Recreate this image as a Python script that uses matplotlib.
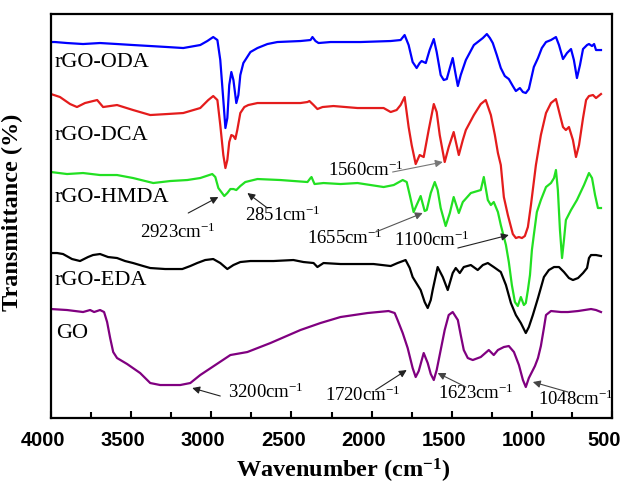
import matplotlib
matplotlib.use("Agg")
import matplotlib.pyplot as plt
import matplotlib.transforms as mtransforms
from matplotlib.ticker import MultipleLocator

plt.rcParams['mathtext.fontset'] = 'custom'
plt.rcParams['mathtext.rm'] = 'Liberation Serif'
plt.rcParams['mathtext.bf'] = 'Liberation Serif:bold'
plt.rcParams['mathtext.it'] = 'Liberation Serif:italic'

# ---------------- data (wavenumber cm^-1, transmittance a.u.) ----------------
oda_w = [4000, 3975, 3900, 3800, 3694, 3588, 3488, 3381, 3275, 3175, 3069, 3025, 2988, 2962, 2944, 2925,
         2912, 2900, 2888, 2875, 2862, 2844, 2831, 2819, 2800, 2756, 2712, 2650, 2588, 2444, 2381, 2369,
         2350, 2331, 2256, 2069, 1881, 1819, 1794, 1769, 1744, 1719, 1700, 1688, 1662, 1638, 1612, 1594,
         1569, 1550, 1531, 1512, 1494, 1475, 1462, 1444, 1412, 1362, 1306, 1281, 1262, 1244, 1219, 1194,
         1169, 1144, 1119, 1100, 1075, 1056, 1038, 1019, 988, 962, 938, 912, 881, 850, 831, 806, 781, 756,
         738, 719, 700, 681, 656, 644, 625, 612, 600, 569]
oda_t = [376, 376, 375, 374, 375, 374, 373, 372, 371, 370, 373, 377, 381, 378, 358, 318,
         290, 300, 333, 346, 338, 315, 323, 343, 355, 366, 370, 374, 376, 377, 378, 381,
         377, 375, 376, 376, 377, 378, 383, 373, 356, 350, 355, 357, 355, 368, 379, 366,
         343, 338, 339, 350, 360, 343, 332, 343, 358, 373, 380, 384, 380, 375, 363, 350,
         342, 339, 332, 327, 330, 326, 325, 329, 351, 360, 370, 376, 378, 381, 373, 359, 365, 369,
         358, 340, 353, 369, 373, 374, 372, 374, 368, 368]

dca_w = [4000, 3944, 3881, 3838, 3788, 3712, 3675, 3588, 3488, 3381, 3275, 3175, 3069, 3019, 2988, 2962,
         2944, 2925, 2912, 2900, 2888, 2875, 2862, 2850, 2838, 2819, 2794, 2769, 2712, 2569, 2444, 2400,
         2388, 2362, 2338, 2306, 2238, 2088, 1925, 1881, 1844, 1819, 1794, 1769, 1750, 1725, 1700, 1675,
         1644, 1612, 1594, 1575, 1544, 1519, 1488, 1456, 1431, 1412, 1362, 1319, 1288, 1256, 1231, 1212,
         1194, 1175, 1150, 1119, 1100, 1081, 1062, 1044, 1025, 1006, 975, 944, 912, 881, 850, 825, 806,
         788, 769, 744, 725, 706, 681, 662, 644, 619, 600, 569]
dca_t = [324, 321, 314, 311, 315, 318, 311, 313, 308, 303, 304, 305, 310, 318, 322, 318,
         293, 263, 250, 258, 276, 283, 282, 279, 288, 305, 311, 313, 315, 315, 315, 316,
         317, 313, 309, 311, 312, 310, 310, 306, 308, 313, 321, 291, 273, 254, 263, 261,
         288, 314, 306, 283, 256, 271, 286, 263, 278, 288, 303, 314, 318, 303, 283, 265,
         253, 221, 203, 184, 180, 181, 180, 182, 191, 213, 253, 283, 305, 315, 319, 303, 291,
         288, 291, 278, 261, 273, 300, 318, 322, 323, 320, 324]

hmda_w = [4000, 3900, 3800, 3694, 3588, 3488, 3362, 3256, 3150, 3069, 2994, 2975, 2956, 2919, 2900, 2881,
          2862, 2844, 2819, 2788, 2712, 2569, 2400, 2381, 2375, 2356, 2300, 2194, 2088, 1925, 1862, 1806,
          1781, 1762, 1738, 1719, 1694, 1669, 1656, 1631, 1606, 1588, 1569, 1538, 1512, 1488, 1456, 1431,
          1381, 1319, 1300, 1275, 1256, 1238, 1212, 1194, 1162, 1144, 1125, 1106, 1088, 1069, 1050, 1038,
          1025, 1012, 1000, 988, 969, 944, 912, 881, 862, 850, 838, 825, 812, 800, 788, 756, 719, 675,
          644, 625, 606, 588, 569]
hmda_t = [246, 244, 245, 243, 243, 240, 235, 237, 238, 240, 244, 241, 230, 222, 225, 229,
          229, 228, 232, 236, 239, 238, 236, 240, 241, 234, 235, 234, 235, 231, 233, 238,
          236, 223, 206, 213, 222, 207, 208, 225, 236, 228, 210, 192, 205, 221, 205, 216,
          225, 228, 241, 218, 213, 216, 206, 193, 173, 156, 133, 116, 112, 121, 113, 115,
          128, 143, 168, 183, 206, 218, 231, 235, 240, 248, 228, 188, 160, 178, 198, 208, 218, 233,
          245, 240, 223, 210, 210]

eda_w = [4000, 3962, 3925, 3869, 3819, 3769, 3738, 3694, 3644, 3588, 3538, 3488, 3425, 3381, 3288, 3181,
         3131, 3088, 3038, 2988, 2944, 2900, 2862, 2819, 2756, 2612, 2488, 2425, 2362, 2338, 2300, 2194,
         1988, 1881, 1838, 1788, 1762, 1744, 1694, 1669, 1650, 1631, 1619, 1588, 1556, 1525, 1494, 1475,
         1450, 1425, 1381, 1338, 1306, 1275, 1238, 1194, 1162, 1131, 1100, 1069, 1038, 1019, 994, 962,
         925, 894, 862, 831, 800, 769, 744, 712, 681, 656, 644, 631, 600, 569]
eda_t = [165, 165, 164, 159, 157, 161, 163, 164, 161, 160, 157, 155, 152, 150, 149, 149,
         152, 155, 158, 159, 155, 149, 153, 156, 157, 157, 158, 156, 155, 151, 155, 154,
         154, 152, 155, 158, 150, 141, 128, 116, 110, 118, 128, 151, 141, 128, 145, 150,
         145, 151, 153, 148, 153, 155, 151, 146, 133, 115, 103, 95, 85, 91, 103, 120,
         141, 148, 151, 151, 146, 140, 138, 140, 145, 150, 160, 163, 163, 162]

go_w = [4000, 3900, 3850, 3800, 3756, 3731, 3694, 3669, 3650, 3631, 3612, 3588, 3525, 3444, 3381, 3319,
        3194, 3131, 3069, 2975, 2881, 2775, 2631, 2444, 2319, 2194, 2025, 1894, 1856, 1838, 1806, 1775,
        1744, 1725, 1706, 1675, 1650, 1631, 1612, 1594, 1569, 1544, 1519, 1494, 1462, 1444, 1425, 1400,
        1369, 1319, 1269, 1238, 1212, 1175, 1144, 1112, 1081, 1056, 1038, 1019, 1000, 981, 962, 944,
        925, 912, 881, 819, 775, 712, 631, 600, 569]
go_t = [109, 108, 107, 106, 108, 106, 108, 106, 96, 80, 66, 60, 54, 45, 35, 33,
        33, 35, 43, 53, 63, 66, 75, 88, 95, 101, 105, 107, 105, 98, 85, 70,
        50, 41, 47, 65, 55, 44, 38, 48, 68, 88, 103, 106, 98, 83, 68, 60,
        58, 61, 68, 63, 68, 71, 72, 66, 53, 38, 31, 40, 46, 52, 60, 72,
        90, 103, 107, 106, 106, 107, 109, 108, 106]

series_names = ['rGO-ODA', 'rGO-DCA', 'rGO-HMDA', 'rGO-EDA', 'GO']
x_ticks = [4000, 3500, 3000, 2500, 2000, 1500, 1000, 500]

# peak annotations: label, text position, arrow tail, arrow head
peak_labels = ['2923', '2851', '1560', '1655', '1100', '3200', '1720', '1623', '1048']
peak_text_w = [3444, 2788, 2275, 2400, 1862, 2894, 2288, 1588, 962]
peak_text_t = [186, 203, 248, 180, 178, 26, 23, 25, 19]
peak_tail_w = [3144, 2650, 1869, 1975, 1462, 2944, 1975, 1412, 775]
peak_tail_t = [205, 210, 246, 186, 170, 22, 28, 31, 26]
peak_head_w = [2956, 2775, 1556, 1681, 1144, 3119, 1781, 1588, 994]
peak_head_t = [221, 225, 256, 205, 183, 30, 48, 45, 36]
peak_arrow_col = ['#222222', '#222222', '#777777', '#555555', '#222222',
                  '#222222', '#222222', '#444444', '#444444']

# series labels
label_w = [3975, 3975, 3975, 3975, 3969]
label_t = [356, 283, 221, 138, 85]

# ---------------- plot ----------------
fig = plt.figure(figsize=(6.22, 4.94), dpi=100)
ax = fig.add_axes([0.082, 0.1538, 0.902, 0.8178])

colors = ['#0000ff', '#e41c1c', '#22e022', '#000000', '#800080']
data = [(oda_w, oda_t), (dca_w, dca_t), (hmda_w, hmda_t), (eda_w, eda_t), (go_w, go_t)]
for (w, t), c in zip(data, colors):
    ax.plot(w, t, color=c, lw=1.6)

serif = 'Liberation Serif'
for name, lw_, lt in zip(series_names, label_w, label_t):
    ax.text(lw_, lt, name, family=serif, fontsize=16, ha='left', va='center')

for lab, tw, tt, aw, at, hw, ht, ac in zip(peak_labels, peak_text_w, peak_text_t,
                                           peak_tail_w, peak_tail_t, peak_head_w, peak_head_t,
                                           peak_arrow_col):
    ax.text(tw, tt, lab + r'cm$^{-1}$', family=serif, fontsize=13.5, ha='left', va='center')
    ax.annotate('', xy=(hw, ht), xytext=(aw, at),
                arrowprops=dict(arrowstyle='-|>', color=ac, lw=0.8,
                                mutation_scale=11, shrinkA=0, shrinkB=0))

ax.set_xlim(4000, 500)
ax.set_ylim(0, 404)
ax.set_xticks(x_ticks)
ax.xaxis.set_minor_locator(MultipleLocator(250))
ax.set_yticks([])
ax.tick_params(axis='x', which='major', direction='in', length=5, width=1.5, pad=9,
               labelsize=14.5)
ax.tick_params(axis='x', which='minor', direction='in', length=4, width=1.5)
shift = mtransforms.ScaledTranslation(-0.08, 0, fig.dpi_scale_trans)
for lab in ax.get_xticklabels():
    lab.set_fontfamily('Liberation Sans')
    lab.set_fontweight('bold')
    lab.set_transform(lab.get_transform() + shift)
for s in ax.spines.values():
    s.set_linewidth(1.6)

ax.set_xlabel(r'Wavenumber (cm$^{\mathbf{-1}}$)', family=serif, fontweight='bold',
              fontsize=17.5)
ax.xaxis.set_label_coords(0.52, -0.13)
ax.xaxis.label.set_va('center')
ax.set_ylabel('Transmittance (%)', family=serif, fontweight='bold', fontsize=17.5)
ax.yaxis.set_label_coords(-0.05, 0.51)

fig.savefig('out.png', dpi=100)
